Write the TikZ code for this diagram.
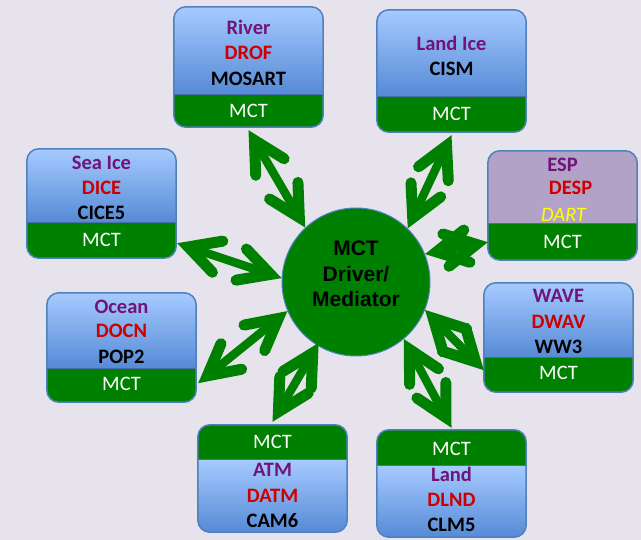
\documentclass[tikz,border=0pt]{standalone}
\usepackage{fontspec}
\setmainfont{Carlito}
\newfontfamily\arialfont{Liberation Sans}
\usetikzlibrary{calc}
\definecolor{bgc}{RGB}{230,227,237}
\definecolor{mctgreen}{RGB}{0,128,0}
\definecolor{bordb}{RGB}{79,129,189}
\definecolor{bandline}{RGB}{70,110,170}
\definecolor{lightb}{RGB}{166,202,255}
\definecolor{darkb}{RGB}{86,138,214}
\definecolor{compp}{RGB}{112,20,120}
\definecolor{compr}{RGB}{204,0,0}
\definecolor{espfill}{RGB}{178,162,199}
\definecolor{dartc}{RGB}{255,255,0}

\tikzset{
 boxshape/.style={rectangle, minimum width=149pt, inner sep=0pt, draw=none},
 lbl/.style={font=\bfseries\fontsize{20.5}{21}\selectfont, inner sep=0pt, text height=13pt, text depth=0pt},
 mcttxt/.style={font=\fontsize{20.5}{21}\selectfont, text=white, inner sep=0pt, text height=13pt, text depth=0pt},
 shaft/.style={draw=mctgreen, line width=8.5pt},
 barb/.style={draw=mctgreen, line width=11pt, line cap=round, line join=miter},
 bluegrad/.style={top color=lightb, bottom color=darkb},
}

% box with the MCT band at the bottom
\newcommand{\upbox}[6]{%
 \node[boxshape, minimum height=#4pt] (#1) at (#2+74.5, #3+#4/2) {};
 \begin{scope}
  \clip[rounded corners=12pt] (#1.north west) rectangle (#1.south east);
  \fill[#6] (#1.north west) rectangle ($(#1.south east)+(0,-#5)$);
  \fill[mctgreen] ($(#1.south west)+(0,-#5)$) rectangle (#1.south east);
  \draw[line width=1pt, bandline] ($(#1.south west)+(0,-#5)$) -- ($(#1.south east)+(0,-#5)$);
 \end{scope}
 \draw[line width=1.5pt, bordb, rounded corners=12pt] (#1.north west) rectangle (#1.south east);
}
% box with the MCT band at the top
\newcommand{\downbox}[6]{%
 \node[boxshape, minimum height=#4pt] (#1) at (#2+74.5, #3+#4/2) {};
 \begin{scope}
  \clip[rounded corners=12pt] (#1.north west) rectangle (#1.south east);
  \fill[#6] ($(#1.north west)+(0,#5)$) rectangle (#1.south east);
  \fill[mctgreen] (#1.north west) rectangle ($(#1.north east)+(0,#5)$);
  \draw[line width=1pt, bandline] ($(#1.north west)+(0,#5)$) -- ($(#1.north east)+(0,#5)$);
 \end{scope}
 \draw[line width=1.5pt, bordb, rounded corners=12pt] (#1.north west) rectangle (#1.south east);
}

\newcommand{\dblarrow}[2]{%
 \path ($(#1)!11.7pt!(#2)$) coordinate (#1v) ($(#2)!11.7pt!(#1)$) coordinate (#2v);
 \draw[shaft] (#1v) -- (#2v);
 \draw[barb] ($(#1v)!35pt!28:(#2)$) -- (#1v) -- ($(#1v)!35pt!-28:(#2)$);
 \draw[barb] ($(#2v)!35pt!28:(#1)$) -- (#2v) -- ($(#2v)!35pt!-28:(#1)$);
}

\begin{document}
\begin{tikzpicture}[x=1pt,y=-1pt]
\fill[bgc] (0,0) rectangle (641,540);
\useasboundingbox (0,0) rectangle (641,540);

% boxes
\upbox{river}{174}{7}{120}{33}{bluegrad}
\upbox{landice}{377}{10}{122}{36}{bluegrad}
\upbox{esp}{488}{151}{109}{37}{fill=espfill}
\upbox{seaice}{27}{149}{109}{36}{bluegrad}
\upbox{ocean}{47}{293}{109}{34}{bluegrad}
\upbox{wave}{484}{283}{109}{35}{bluegrad}
\downbox{atm}{198}{425}{107}{35}{bluegrad}
\downbox{land}{377}{430}{107}{36}{bluegrad}

% labels
\node[lbl, text=compp] (river1) at (248.5,28) {River};
\node[lbl, text=compr] (river2) at (248.5,53) {DROF};
\node[lbl, text=black] (river3) at (248.5,79) {MOSART};
\node[mcttxt] (river4) at (248.5,111) {MCT};

\node[lbl, text=compp] (landice1) at (451.5,44) {Land Ice};
\node[lbl, text=black] (landice2) at (451.5,69) {CISM};
\node[mcttxt] (landice3) at (451.5,114) {MCT};

\node[lbl, text=compp] (esp1) at (562.5,165) {ESP};
\node[lbl, text=compr] (esp2) at (570.5,188) {DESP};
\node[font=\itshape\fontsize{20.5}{21}\selectfont, inner sep=0pt, text height=13pt, text depth=0pt, text=dartc] (esp3) at (563.5,215) {DART};
\node[mcttxt] (esp4) at (562.5,242) {MCT};

\node[lbl, text=compp] (seaice1) at (101.5,163) {Sea Ice};
\node[lbl, text=compr] (seaice2) at (101.5,188) {DICE};
\node[lbl, text=black] (seaice3) at (101.5,213) {CICE5};
\node[mcttxt] (seaice4) at (101.5,240) {MCT};

\node[lbl, text=compp] (ocean1) at (121.5,307) {Ocean};
\node[lbl, text=compr] (ocean2) at (121.5,331) {DOCN};
\node[lbl, text=black] (ocean3) at (121.5,357) {POP2};
\node[mcttxt] (ocean4) at (121.5,384) {MCT};

\node[lbl, text=compp] (wave1) at (558.5,296) {WAVE};
\node[lbl, text=compr] (wave2) at (558.5,322) {DWAV};
\node[lbl, text=black] (wave3) at (558.5,347) {WW3};
\node[mcttxt] (wave4) at (558.5,373) {MCT};

\node[mcttxt] (atm1) at (272.5,442) {MCT};
\node[lbl, text=compp] (atm2) at (272.5,470) {ATM};
\node[lbl, text=compr] (atm3) at (272.5,496) {DATM};
\node[lbl, text=black] (atm4) at (272.5,521) {CAM6};

\node[mcttxt] (land1) at (451.5,449) {MCT};
\node[lbl, text=compp] (land2) at (451.5,475) {Land};
\node[lbl, text=compr] (land3) at (451.5,500) {DLND};
\node[lbl, text=black] (land4) at (451.5,525) {CLM5};

% driver
\node[circle, minimum size=148pt, inner sep=0pt, fill=mctgreen, draw=bordb, line width=1pt] (ctr) at (356,282) {};

% arrow end points
\coordinate (a1) at ($(river.south)+(0,3)$);
\coordinate (b1) at (ctr.133);
\coordinate (a2) at ($(landice.south)+(0,3)$);
\coordinate (b2) at (ctr.46);
\coordinate (a3) at ($(seaice.south east)+(1,-15)$);
\coordinate (b3) at (ctr.177);
\coordinate (a4) at ($(ocean.south east)+(2,-19)$);
\coordinate (b4) at (ctr.203);
\coordinate (a5) at ($(atm.north)+(0,-3)$);
\coordinate (b5) at ($(ctr.239)+(1,-3)$);
\coordinate (a6) at ($(land.north)+(0,-2)$);
\coordinate (b6) at (ctr.310);
\coordinate (a7) at ($(wave.south west)+(0,-22)$);
\coordinate (b7) at (ctr.338);
\coordinate (a8) at ($(esp.south west)+(0,-18)$);
\coordinate (b8) at (ctr.22);

\dblarrow{a1}{b1}
\dblarrow{a2}{b2}
\dblarrow{a3}{b3}
\dblarrow{a4}{b4}
\dblarrow{a5}{b5}
\dblarrow{a6}{b6}
\dblarrow{a7}{b7}
\dblarrow{a8}{b8}

\node[font=\arialfont\bfseries\fontsize{21}{25.5}\selectfont, align=center, inner sep=0pt] (ctrtxt) at (356,274) {MCT\\Driver/\\Mediator};
\end{tikzpicture}
\end{document}
